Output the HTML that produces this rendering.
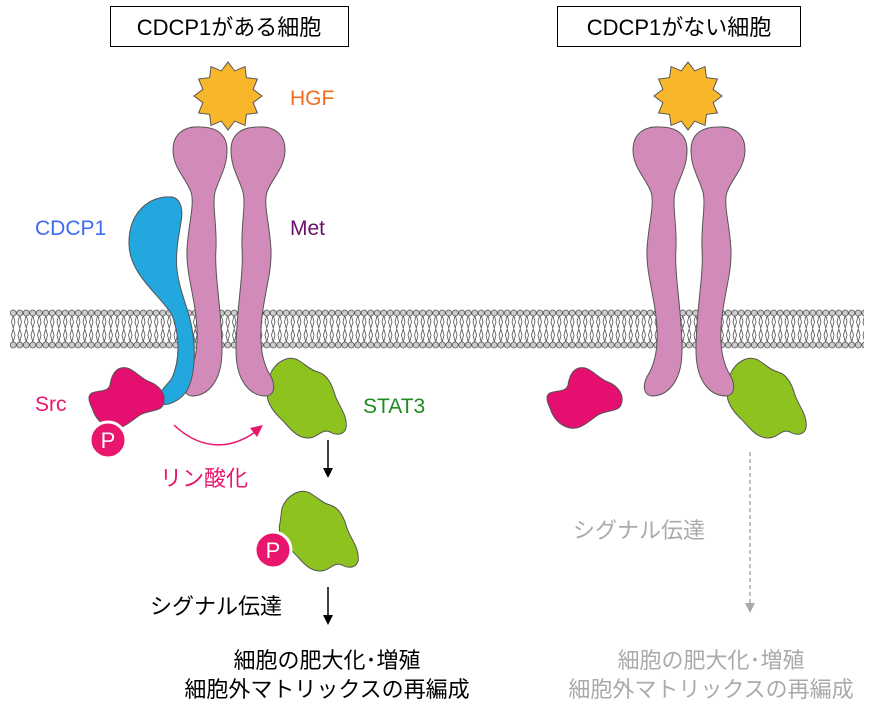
<!DOCTYPE html>
<html><head><meta charset="utf-8"><style>
html,body{margin:0;padding:0;background:#fff;}
svg{display:block;font-family:"Liberation Sans","Noto Sans CJK JP",sans-serif;}
</style></head><body>
<svg width="874" height="718" viewBox="0 0 874 718" xmlns="http://www.w3.org/2000/svg">
<defs>
<pattern id="lip" x="10" y="0" width="6.5" height="718" patternUnits="userSpaceOnUse">
<path d="M3.25 315 L1.5 322 L3.25 328 L5 322 Z M3.25 342 L1.5 335 L3.25 329 L5 335 Z" fill="none" stroke="#555" stroke-width="0.8"/>
<circle cx="3.25" cy="313" r="3" fill="#ccc" stroke="#555" stroke-width="0.8"/>
<circle cx="3.25" cy="345" r="3" fill="#ccc" stroke="#555" stroke-width="0.8"/>
</pattern>
<path id="met" d="M200 127 C184 126,173 134,173 150 C173 168,186 178,191 192 C195 205,188 225,187 250 C186 275,196 300,197 330 C198 350,194 365,188 375 C183 383,182 395,192 396 C205 396,222 385,222 350 C222 310,214 275,216 248 C217 225,212 205,215 192 C219 178,227 168,227 150 C227 134,216 127,200 127 Z" fill="#d28bb8" stroke="#555" stroke-width="1"/>
<path id="src" d="M92 393 C100 390,108 392,110 385 C112 372,118 366,127 368 C135 370,140 378,150 382 C160 386,167 395,163 405 C160 412,148 410,140 415 C130 422,122 430,112 428 C102 426,95 418,92 408 C88 400,88 395,92 393 Z" fill="#e50f6f" stroke="#555" stroke-width="1"/>
<path id="stat" d="M270 375 C275 362,288 355,298 360 C305 364,310 370,318 372 C328 375,332 385,335 395 C338 405,348 415,346 428 C344 436,335 435,330 432 C322 428,318 438,308 438 C295 438,288 425,280 418 C272 410,265 400,268 390 Z" fill="#8dc21f" stroke="#555" stroke-width="1"/>
<polygon id="hgf" points="34,0 25.1,6.7 29.4,17 18.4,18.4 17,29.4 6.7,25.1 0,34 -6.7,25.1 -17,29.4 -18.4,18.4 -29.4,17 -25.1,6.7 -34,0 -25.1,-6.7 -29.4,-17 -18.4,-18.4 -17,-29.4 -6.7,-25.1 0,-34 6.7,-25.1 17,-29.4 18.4,-18.4 29.4,-17 25.1,-6.7" fill="#f8b62b" stroke="#555" stroke-width="1"/>
</defs>

<rect x="10" y="305" width="854" height="48" fill="url(#lip)"/>

<!-- left cell -->
<use href="#hgf" transform="translate(228,96)"/>
<use href="#stat"/>
<use href="#met"/>
<use href="#met" transform="translate(458,0) scale(-1,1)"/>
<path d="M172 197 C150 195,128 212,129 245 C130 275,160 295,172 315 C180 335,180 360,172 378 C165 388,155 395,158 402 C162 408,178 403,186 392 C194 380,196 355,193 335 C190 310,180 295,177 270 C175 250,180 230,181 222 C183 212,182 199,172 197 Z" fill="#22a7de" stroke="#555" stroke-width="1"/>
<use href="#src"/>
<circle cx="108" cy="440" r="18" fill="#e8176d" stroke="#fff" stroke-width="3"/>
<text x="108" y="448" font-size="22" fill="#fff" text-anchor="middle">P</text>
<path d="M174 425 C195 445,225 455,258 430" fill="none" stroke="#e8176d" stroke-width="1.5"/>
<polygon points="263,425 250,428 257,437" fill="#e8176d"/>

<use href="#stat" transform="translate(12,133)"/>
<circle cx="273" cy="550" r="18" fill="#e8176d" stroke="#fff" stroke-width="3"/>
<text x="273" y="558" font-size="22" fill="#fff" text-anchor="middle">P</text>

<line x1="328" y1="440" x2="328" y2="470" stroke="#000" stroke-width="1.5"/>
<polygon points="323,468 333,468 328,478" fill="#000"/>
<line x1="328" y1="587" x2="328" y2="617" stroke="#000" stroke-width="1.5"/>
<polygon points="323,615 333,615 328,625" fill="#000"/>

<!-- right cell -->
<use href="#hgf" transform="translate(688,96)"/>
<use href="#stat" transform="translate(460,0)"/>
<use href="#met" transform="translate(460,0)"/>
<use href="#met" transform="translate(918,0) scale(-1,1)"/>
<use href="#src" transform="translate(458,0)"/>
<line x1="750" y1="452" x2="750" y2="604" stroke="#aaa" stroke-width="1.5" stroke-dasharray="4,3"/>
<polygon points="745,603 755,603 750,613" fill="#aaa"/>

<!-- boxes -->
<rect x="110.5" y="6.5" width="238" height="40" fill="#fff" stroke="#000" stroke-width="1"/>
<text x="229" y="35" font-size="22" text-anchor="middle">CDCP1がある細胞</text>
<rect x="557.5" y="6.5" width="243" height="40" fill="#fff" stroke="#000" stroke-width="1"/>
<text x="679" y="35" font-size="22" text-anchor="middle">CDCP1がない細胞</text>

<g font-size="21">
<text x="290" y="105" fill="#f26b1d">HGF</text>
<text x="35" y="235" fill="#3d6cf0">CDCP1</text>
<text x="290" y="235" fill="#6b0f6b">Met</text>
<text x="35" y="411" fill="#e8176d">Src</text>
<text x="363" y="413" fill="#1e8c1e">STAT3</text>
</g>
<g font-size="22">
<text x="160" y="486" fill="#e8176d">リン酸化</text>
<text x="150" y="614" fill="#000">シグナル伝達</text>
<text x="327" y="668" fill="#000" text-anchor="middle">細胞の肥大化･増殖</text>
<text x="327" y="697" fill="#000" text-anchor="middle">細胞外マトリックスの再編成</text>
<text x="573" y="538" fill="#aaa">シグナル伝達</text>
<text x="711" y="668" fill="#aaa" text-anchor="middle">細胞の肥大化･増殖</text>
<text x="711" y="697" fill="#aaa" text-anchor="middle">細胞外マトリックスの再編成</text>
</g>
</svg>
</body></html>
